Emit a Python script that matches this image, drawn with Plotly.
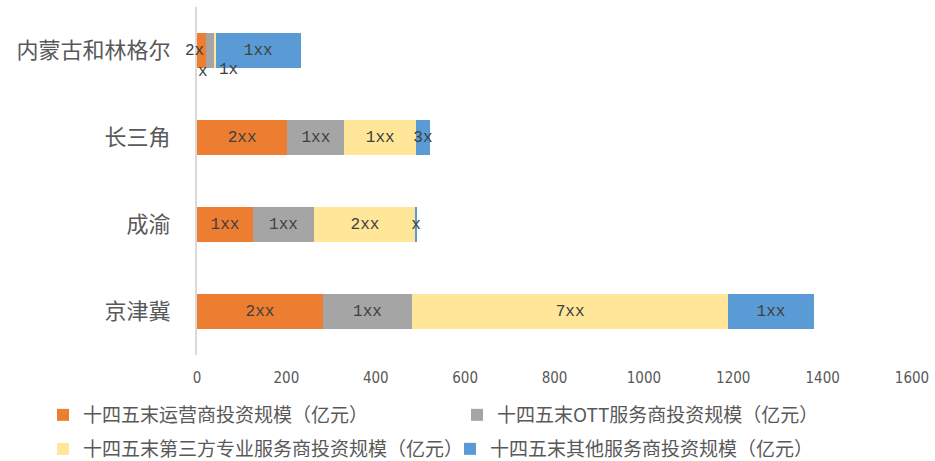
import plotly.graph_objects as go

categories = ["京津冀", "成渝", "长三角", "内蒙古和林格尔"]
operator = [282, 125, 202, 20]
ott = [199, 137, 128, 19]
third_party = [708, 228, 160, 3]
other = [191, 3, 31, 190]

operator_lbl = ["2xx", "1xx", "2xx", "2x"]
ott_lbl = ["1xx", "1xx", "1xx", "1x"]
third_lbl = ["7xx", "2xx", "1xx", "x"]
other_lbl = ["1xx", "x", "3x", "1xx"]

names = [
    "十四五末运营商投资规模（亿元）",
    "十四五末OTT服务商投资规模（亿元）",
    "十四五末第三方专业服务商投资规模（亿元）",
    "十四五末其他服务商投资规模（亿元）",
]
colors = ["#ED7D31", "#A5A5A5", "#FFE699", "#5B9BD5"]
x_ticks = [0, 200, 400, 600, 800, 1000, 1200, 1400, 1600]

series = [operator, ott, third_party, other]
labels = [operator_lbl, ott_lbl, third_lbl, other_lbl]
displaced = [True, True, True, False]
legend_ids = ["legend", "legend2", "legend3", "legend4"]
legend_pos = [(43, 415), (457, 415), (43, 449), (450, 449)]

label_font = dict(family="Liberation Mono, monospace", size=16, color="#404040")
fig = go.Figure()
for i, (vals, lbls, nm, col) in enumerate(zip(series, labels, names, colors)):
    txt = list(lbls)
    if displaced[i]:
        txt[3] = ""
    fig.add_trace(go.Bar(
        y=categories, x=vals, orientation="h", name=nm,
        marker=dict(color=col, line=dict(width=0)),
        text=txt, textposition="inside", insidetextanchor="middle",
        textangle=0, constraintext="none", textfont=label_font,
        hoverinfo="skip", showlegend=True,
        legend=legend_ids[i],
    ))

cat = categories[3]
o, g, t = operator[3], ott[3], third_party[3]
fig.add_annotation(x=o / 2, y=cat, text=operator_lbl[3], showarrow=False,
                   font=label_font, xshift=-7)
fig.add_annotation(x=o + g / 2, y=cat, text=ott_lbl[3], showarrow=False,
                   font=label_font, xshift=18, yshift=-19)
fig.add_annotation(x=o + g + t / 2, y=cat, text=third_lbl[3], showarrow=False,
                   font=label_font, xshift=-12, yshift=-21)

legends = {}
for lid, (lx, ly) in zip(legend_ids, legend_pos):
    legends[lid] = dict(orientation="h", xref="container", yref="container",
                        x=lx / 935, y=1 - ly / 461, yanchor="middle", xanchor="left",
                        font=dict(family="Noto Sans CJK SC", size=19, color="#595959"),
                        bgcolor="rgba(0,0,0,0)", borderwidth=0)

fig.update_layout(
    barmode="stack",
    bargap=0.6,
    showlegend=True,
    width=935, height=461,
    margin=dict(l=197, r=23, t=7, b=106, autoexpand=False),
    plot_bgcolor="white", paper_bgcolor="white",
    font=dict(family="Noto Sans CJK SC", color="#595959"),
    **legends,
)
fig.update_xaxes(range=[0, 1600], tickvals=x_ticks, showgrid=False, zeroline=False,
                 showline=False, ticks="", ticklabelstandoff=12,
                 tickfont=dict(family="DejaVu Sans Condensed, DejaVu Sans", size=15, color="#595959"))
fig.update_yaxes(showgrid=False, zeroline=False, showline=True, linecolor="#D9D9D9",
                 linewidth=2, ticks="", ticklabelstandoff=20,
                 tickfont=dict(family="Noto Sans CJK SC", size=22, color="#595959"))

fig.write_html("out.html")
